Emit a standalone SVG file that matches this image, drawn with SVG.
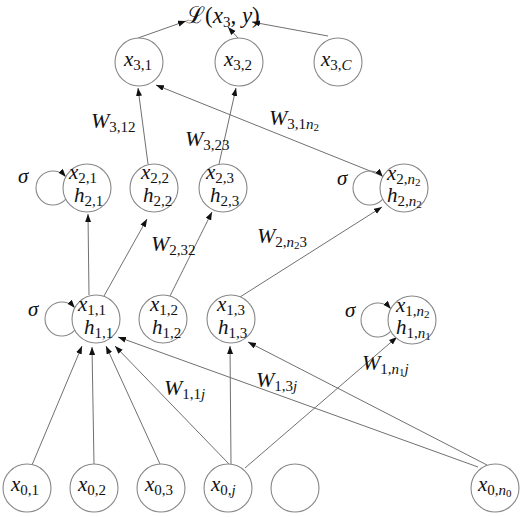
<svg xmlns="http://www.w3.org/2000/svg" width="529" height="517" viewBox="0 0 529 517">
<defs>
<marker id="ah" markerUnits="userSpaceOnUse" markerWidth="10" markerHeight="8" refX="8" refY="3" orient="auto">
<path d="M0,0 L8,3 L0,6 z" fill="#111"/>
</marker>
<style>
.n{fill:#fff;stroke:#888;stroke-width:1.1}
.e{stroke:#707070;stroke-width:1;fill:none;marker-end:url(#ah)}
.lp{stroke:#888;stroke-width:1.1;fill:none;marker-end:url(#ah)}
.m{font-family:"Liberation Serif","DejaVu Serif",serif;font-style:italic;font-size:21px;fill:#111}
.w{font-family:"Liberation Serif","DejaVu Serif",serif;font-style:italic;font-size:22px;fill:#111}
.s{font-style:normal;font-size:15px}
.i{font-style:italic}
.ssn{font-style:normal;font-size:11px}
.up{font-style:normal}
</style>
</defs>
<rect width="529" height="517" fill="#fff"/>

<g id="edges">
<line class="e" x1="138" y1="38" x2="186" y2="21"/>
<line class="e" x1="238" y1="38" x2="228" y2="27"/>
<line class="e" x1="328" y1="36" x2="252" y2="22"/>
<line class="e" x1="148" y1="164" x2="138" y2="88"/>
<line class="e" x1="219" y1="164" x2="236" y2="88"/>
<line class="e" x1="380" y1="175" x2="156" y2="85"/>
<line class="e" x1="89" y1="295" x2="88" y2="214"/>
<line class="e" x1="104" y1="296" x2="147" y2="219"/>
<line class="e" x1="170" y1="296" x2="212" y2="212"/>
<line class="e" x1="240" y1="297" x2="382" y2="207"/>
<line class="e" x1="32" y1="465" x2="82" y2="346"/>
<line class="e" x1="94" y1="464" x2="92" y2="347"/>
<line class="e" x1="160" y1="464" x2="106" y2="346"/>
<line class="e" x1="229" y1="464" x2="115" y2="346"/>
<line class="e" x1="231" y1="464" x2="230" y2="346"/>
<line class="e" x1="245" y1="468" x2="397" y2="337"/>
<line class="e" x1="478" y1="467" x2="118" y2="337"/>
<line class="e" x1="487" y1="465" x2="248" y2="342"/>
</g>

<g id="loss">
<text class="m" x="186" y="23" style="font-size:23px"><tspan style="font-family:'DejaVu Serif',serif;font-style:normal">ℒ</tspan><tspan class="up">(</tspan>x<tspan class="s" dy="4">3</tspan><tspan class="up" dy="-4">, </tspan>y<tspan class="up">)</tspan></text>
</g>

<g id="x31"><circle class="n" cx="139" cy="62" r="24"/><text class="m" x="124" y="66">x<tspan class="s" dy="4">3,1</tspan></text></g>
<g id="x32"><circle class="n" cx="239" cy="62" r="24"/><text class="m" x="224" y="66">x<tspan class="s" dy="4">3,2</tspan></text></g>
<g id="x3C"><circle class="n" cx="338" cy="62" r="24"/><text class="m" x="321" y="66">x<tspan class="s" dy="4">3,<tspan class="i">C</tspan></tspan></text></g>

<g id="x21"><path class="lp" d="M65.8,199.2 A17 17 0 1 1 65.8,176.8"/><circle class="n" cx="87" cy="188" r="24"/><text class="m" x="69" y="179">x<tspan class="s" dy="4">2,1</tspan></text><text class="m" x="74" y="202">h<tspan class="s" dy="4">2,1</tspan></text></g>
<g id="x22"><circle class="n" cx="154" cy="188" r="24"/><text class="m" x="141" y="179">x<tspan class="s" dy="4">2,2</tspan></text><text class="m" x="143" y="202">h<tspan class="s" dy="4">2,2</tspan></text></g>
<g id="x23"><circle class="n" cx="223" cy="188" r="24"/><text class="m" x="206" y="179">x<tspan class="s" dy="4">2,3</tspan></text><text class="m" x="210" y="202">h<tspan class="s" dy="4">2,3</tspan></text></g>
<g id="x2n"><path class="lp" d="M382.8,199.2 A17 17 0 1 1 382.8,176.8"/><circle class="n" cx="404" cy="188" r="24"/><text class="m" x="387" y="180">x<tspan class="s" dy="4">2,<tspan class="i">n</tspan><tspan class="ssn" dy="2">2</tspan></tspan></text><text class="m" x="387" y="202">h<tspan class="s" dy="4">2,<tspan class="i">n</tspan><tspan class="ssn" dy="2">2</tspan></tspan></text></g>

<g id="x11"><path class="lp" d="M74.8,330.2 A17 17 0 1 1 74.8,307.8"/><circle class="n" cx="96" cy="319" r="24"/><text class="m" x="78" y="311">x<tspan class="s" dy="4">1,1</tspan></text><text class="m" x="84" y="334">h<tspan class="s" dy="4">1,1</tspan></text></g>
<g id="x12"><circle class="n" cx="163" cy="319" r="24"/><text class="m" x="150" y="311">x<tspan class="s" dy="4">1,2</tspan></text><text class="m" x="152" y="334">h<tspan class="s" dy="4">1,2</tspan></text></g>
<g id="x13"><circle class="n" cx="231" cy="319" r="24"/><text class="m" x="217" y="311">x<tspan class="s" dy="4">1,3</tspan></text><text class="m" x="218" y="334">h<tspan class="s" dy="4">1,3</tspan></text></g>
<g id="x1n"><path class="lp" d="M390.8,331.2 A17 17 0 1 1 390.8,308.8"/><circle class="n" cx="412" cy="320" r="24"/><text class="m" x="396" y="312">x<tspan class="s" dy="4">1,<tspan class="i">n</tspan><tspan class="ssn" dy="2">2</tspan></tspan></text><text class="m" x="396" y="334">h<tspan class="s" dy="4">1,<tspan class="i">n</tspan><tspan class="ssn" dy="2">1</tspan></tspan></text></g>

<g id="x01"><circle class="n" cx="27" cy="488" r="24"/><text class="m" x="11" y="491">x<tspan class="s" dy="4">0,1</tspan></text></g>
<g id="x02"><circle class="n" cx="94" cy="488" r="24"/><text class="m" x="78" y="491">x<tspan class="s" dy="4">0,2</tspan></text></g>
<g id="x03"><circle class="n" cx="161" cy="488" r="24"/><text class="m" x="145" y="491">x<tspan class="s" dy="4">0,3</tspan></text></g>
<g id="x0j"><circle class="n" cx="228" cy="488" r="24"/><text class="m" x="211" y="491">x<tspan class="s" dy="4">0,<tspan class="i">j</tspan></tspan></text></g>
<g id="x0e"><circle class="n" cx="295" cy="488" r="24"/></g>
<g id="x0n"><circle class="n" cx="495" cy="488" r="24"/><text class="m" x="478" y="491">x<tspan class="s" dy="4">0,<tspan class="i">n</tspan><tspan class="ssn" dy="2">0</tspan></tspan></text></g>

<g id="labels">
<text class="m" x="18" y="183">σ</text>
<text class="m" x="28" y="316">σ</text>
<text class="m" x="337" y="185">σ</text>
<text class="m" x="345" y="317">σ</text>
<text class="w" x="91" y="128">W<tspan class="s" dy="4">3,12</tspan></text>
<text class="w" x="185" y="146">W<tspan class="s" dy="4">3,23</tspan></text>
<text class="w" x="269" y="125">W<tspan class="s" dy="4">3,1<tspan class="i">n</tspan><tspan class="ssn" dy="2">2</tspan></tspan></text>
<text class="w" x="151" y="251">W<tspan class="s" dy="4">2,32</tspan></text>
<text class="w" x="257" y="243">W<tspan class="s" dy="4">2,<tspan class="i">n</tspan><tspan class="ssn" dy="2">2</tspan><tspan dy="-2">3</tspan></tspan></text>
<text class="w" x="164" y="395">W<tspan class="s" dy="4">1,1<tspan class="i">j</tspan></tspan></text>
<text class="w" x="256" y="387">W<tspan class="s" dy="4">1,3<tspan class="i">j</tspan></tspan></text>
<text class="w" x="362" y="370">W<tspan class="s" dy="4">1,<tspan class="i">n</tspan><tspan class="ssn" dy="2">1</tspan><tspan class="i" dy="-2">j</tspan></tspan></text>
</g>
</svg>
